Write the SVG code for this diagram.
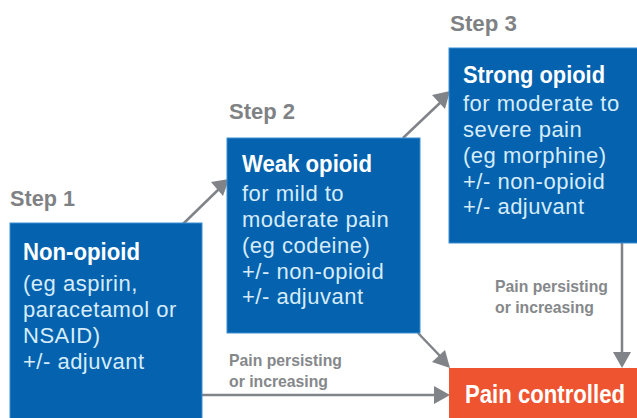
<svg xmlns="http://www.w3.org/2000/svg" width="637" height="418" viewBox="0 0 637 418">
<defs>
<style>
.box{fill:#0462ae;stroke:#3d8fd1;stroke-width:1}
.step{font-family:"Liberation Sans",Arial,sans-serif;font-weight:bold;font-size:22px;fill:#7f8285}
.title{font-family:"Liberation Sans",Arial,sans-serif;font-weight:bold;font-size:24px;fill:#ffffff}
.body{font-family:"Liberation Sans",Arial,sans-serif;font-size:22px;fill:#d6ecfa;letter-spacing:0.5px}
.lbl{font-family:"Liberation Sans",Arial,sans-serif;font-weight:bold;font-size:17px;fill:#85888b}
.conn{stroke:#808387;stroke-width:2.5;fill:none}
.head{fill:#808387}
</style>
</defs>
<rect width="637" height="418" fill="#ffffff"/>
<g id="connectors">
<line class="conn" x1="183" y1="224" x2="220" y2="188"/>
<path class="head" d="M211,182 L229,179 L223,196 Z"/>
<line class="conn" x1="403" y1="138" x2="442" y2="101"/>
<path class="head" d="M432,95 L450,91 L445,109 Z"/>
<line class="conn" x1="418" y1="333" x2="441" y2="357"/>
<path class="head" d="M432,362 L450,368 L445,350 Z"/>
<line class="conn" x1="202" y1="395" x2="436" y2="395"/>
<path class="head" d="M434,386 L450,395 L434,404 Z"/>
<line class="conn" x1="622" y1="243" x2="622" y2="354"/>
<path class="head" d="M613,352 L622,368 L631,352 Z"/>
<text class="lbl" x="229" y="366" textLength="113" lengthAdjust="spacingAndGlyphs">Pain persisting</text>
<text class="lbl" x="229" y="387" textLength="99" lengthAdjust="spacingAndGlyphs">or increasing</text>
<text class="lbl" x="495" y="292" textLength="113" lengthAdjust="spacingAndGlyphs">Pain persisting</text>
<text class="lbl" x="495" y="313" textLength="99" lengthAdjust="spacingAndGlyphs">or increasing</text>
</g>
<g id="step1">
<text class="step" x="10" y="206" textLength="65" lengthAdjust="spacingAndGlyphs">Step 1</text>
<rect class="box" x="10" y="223" width="192" height="200"/>
<text class="title" x="23" y="260" textLength="117" lengthAdjust="spacingAndGlyphs">Non-opioid</text>
<text class="body" x="23" y="291">(eg aspirin,</text>
<text class="body" x="23" y="317">paracetamol or</text>
<text class="body" x="23" y="343">NSAID)</text>
<text class="body" x="23" y="369">+/- adjuvant</text>
</g>
<g id="step2">
<text class="step" x="229" y="119" textLength="66" lengthAdjust="spacingAndGlyphs">Step 2</text>
<rect class="box" x="227" y="138" width="193" height="195"/>
<text class="title" x="242" y="172" textLength="130" lengthAdjust="spacingAndGlyphs">Weak opioid</text>
<text class="body" x="242" y="201">for mild to</text>
<text class="body" x="242" y="227">moderate pain</text>
<text class="body" x="242" y="253">(eg codeine)</text>
<text class="body" x="242" y="279">+/- non-opioid</text>
<text class="body" x="242" y="304">+/- adjuvant</text>
</g>
<g id="step3">
<text class="step" x="450" y="31" textLength="67" lengthAdjust="spacingAndGlyphs">Step 3</text>
<rect class="box" x="449" y="48" width="195" height="195"/>
<text class="title" x="463" y="83" textLength="142" lengthAdjust="spacingAndGlyphs">Strong opioid</text>
<text class="body" x="463" y="111">for moderate to</text>
<text class="body" x="463" y="137">severe pain</text>
<text class="body" x="463" y="163">(eg morphine)</text>
<text class="body" x="463" y="189">+/- non-opioid</text>
<text class="body" x="463" y="214">+/- adjuvant</text>
</g>
<g id="pain-controlled">
<rect x="449" y="368" width="188" height="50" fill="#ee5430"/>
<text class="title" x="465" y="403" style="font-size:26px" textLength="160" lengthAdjust="spacingAndGlyphs">Pain controlled</text>
</g>
</svg>
